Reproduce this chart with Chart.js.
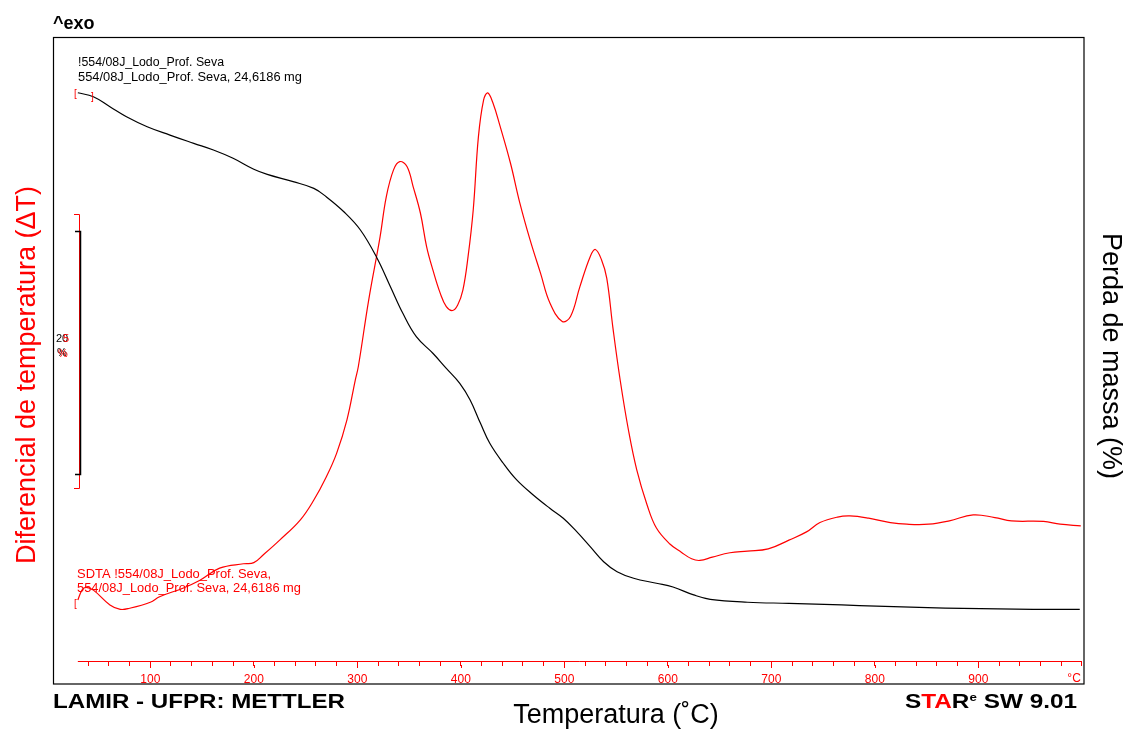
<!DOCTYPE html>
<html>
<head>
<meta charset="utf-8">
<script src="https://cdn.jsdelivr.net/npm/chart.js@4.4.1/dist/chart.umd.min.js"></script>
<style>
  body { margin: 0; background: #fff; }
  #wrap { width: 1126px; height: 731px; }
</style>
</head>
<body>
<div id="wrap"><canvas id="tgaChart" width="1126" height="731"></canvas></div>
<script>
// TGA curve: temperatura (°C) e massa (%)
const tgaTemp = [30, 45, 61, 77, 97, 119, 142, 161, 180, 200, 213, 238, 258, 270, 287, 303, 319, 332, 344, 357,
  373, 386, 399, 409, 419, 428, 441, 454, 470, 486, 499, 512, 525, 538, 551, 567, 589, 605, 625, 641,
  677, 717, 751, 785, 818, 851, 885, 953, 998];
const tgaMass = [100.0, 99.67, 98.85, 98.03, 97.21, 96.52, 95.84, 95.29, 94.61, 93.71, 93.29, 92.69, 92.14, 91.45, 90.22, 88.72, 86.42, 84.06, 81.87, 79.95,
  78.59, 77.35, 76.12, 74.75, 72.83, 71.19, 69.55, 68.18, 66.94, 65.85, 65.03, 63.93, 62.70, 61.46, 60.64, 60.10, 59.69, 59.38, 58.73, 58.37,
  58.13, 58.04, 57.96, 57.85, 57.77, 57.68, 57.63, 57.55, 57.55];

// SDTA curve: temperatura (°C) e diferencial (escala: barra vermelha = 5)
const dtaTemp = [30, 34, 38, 45, 61, 71, 80, 100, 109, 132, 148, 167, 190, 200, 209, 225, 245, 258, 270, 280,
  290, 298, 301, 311, 322, 328, 335, 341, 348, 354, 361, 367, 373, 380, 386, 392, 397, 402, 407, 412,
  417, 422, 426, 431, 438, 448, 457, 467, 477, 486, 498, 506, 515, 525, 530, 536, 541, 547, 554, 562,
  570, 580, 589, 602, 613, 623, 631, 643, 660, 677, 697, 717, 734, 747, 764, 776, 794, 815, 831, 852,
  872, 895, 916, 932, 963, 979, 999];
const dtaDelta = [0, 0.18, 0.23, 0.18, -0.09, -0.17, -0.15, -0.04, 0.06, 0.22, 0.36, 0.58, 0.66, 0.68, 0.82, 1.09, 1.46, 1.82, 2.24, 2.67,
  3.28, 4.00, 4.25, 5.46, 6.61, 7.34, 7.83, 7.98, 7.89, 7.52, 7.04, 6.43, 6.01, 5.59, 5.34, 5.27, 5.37, 5.64, 6.25, 7.10,
  8.43, 9.10, 9.23, 9.05, 8.62, 7.95, 7.23, 6.55, 5.95, 5.41, 5.07, 5.16, 5.70, 6.25, 6.38, 6.19, 5.86, 4.95, 4.00, 3.09,
  2.37, 1.73, 1.31, 1.02, 0.87, 0.75, 0.72, 0.78, 0.86, 0.89, 0.93, 1.09, 1.24, 1.41, 1.51, 1.53, 1.49, 1.41, 1.38, 1.38,
  1.44, 1.55, 1.50, 1.44, 1.43, 1.38, 1.35];

// eixo x
const tickLabels = [100, 200, 300, 400, 500, 600, 700, 800, 900];
const tickStep = 20;
const tempStart = 30;
const tempEnd = 1000;

// barras de escala (20 % e 5)
const tgaBar = [68.66, 88.66];
const dtaBar = [2.03, 7.03];

const FONT = "'Liberation Sans', Arial, sans-serif";
const RED = "#ff0000";

function fitText(ctx, text, x, y, width, font, color) {
  ctx.font = font;
  ctx.fillStyle = color;
  const w = ctx.measureText(text).width;
  ctx.save();
  ctx.translate(x, y);
  ctx.scale(width / w, 1);
  ctx.fillText(text, 0, 0);
  ctx.restore();
}

const decorPlugin = {
  id: "decor",
  afterDraw(chart) {
    const ctx = chart.ctx;
    const xs = chart.scales.x;
    const ys = chart.scales.y;
    const y1s = chart.scales.y1;
    const bottom = chart.chartArea.bottom;
    ctx.save();
    ctx.textAlign = "left";
    ctx.textBaseline = "alphabetic";

    // moldura
    ctx.strokeStyle = "#000";
    ctx.lineWidth = 1.2;
    ctx.strokeRect(53.5, 37.5, 1030.5, 646.5);

    // linha do eixo x
    ctx.strokeStyle = RED;
    ctx.lineWidth = 1;
    ctx.beginPath();
    ctx.moveTo(xs.getPixelForValue(tempStart), bottom + 0.5);
    ctx.lineTo(xs.getPixelForValue(tempEnd), bottom + 0.5);
    // ticks maiores um pouco mais longos
    tickLabels.forEach(function (v) {
      const px = Math.round(xs.getPixelForValue(v)) + 0.5;
      ctx.moveTo(px, bottom + 4);
      ctx.lineTo(px, bottom + 7);
    });
    ctx.stroke();
    ctx.font = "12px " + FONT;
    ctx.fillStyle = RED;
    ctx.textAlign = "right";
    ctx.fillText("°C", xs.getPixelForValue(tempEnd) - 1, bottom + 21);
    ctx.textAlign = "left";

    // barras de escala
    ctx.strokeStyle = RED;
    ctx.lineWidth = 1;
    const r0 = Math.round(y1s.getPixelForValue(dtaBar[1])) + 0.5;
    const r1 = Math.round(y1s.getPixelForValue(dtaBar[0])) + 0.5;
    ctx.beginPath();
    ctx.moveTo(74, r0); ctx.lineTo(79.5, r0); ctx.lineTo(79.5, r1); ctx.lineTo(74, r1);
    ctx.stroke();
    ctx.strokeStyle = "#000";
    ctx.lineWidth = 1.5;
    const b0 = Math.round(ys.getPixelForValue(tgaBar[1])) + 0.5;
    const b1 = Math.round(ys.getPixelForValue(tgaBar[0])) + 0.5;
    ctx.beginPath();
    ctx.moveTo(75, b0); ctx.lineTo(80.5, b0); ctx.lineTo(80.5, b1); ctx.lineTo(75, b1);
    ctx.stroke();
    ctx.font = "11px " + FONT;
    ctx.fillStyle = "#000";
    ctx.fillText("20", 56, 342);
    ctx.fillText("%", 57, 356);
    ctx.fillStyle = RED;
    ctx.fillText("5", 63, 342);
    ctx.fillText("%", 58, 357);

    // marcadores de início
    ctx.font = "10px " + FONT;
    ctx.fillStyle = RED;
    ctx.fillText("[", 74, 97);
    ctx.fillText("]", 91, 100);
    ctx.fillText("[", 74, 607);

    // textos das curvas
    fitText(ctx, "!554/08J_Lodo_Prof. Seva", 78, 66, 146, "12px " + FONT, "#000");
    fitText(ctx, "554/08J_Lodo_Prof. Seva, 24,6186 mg", 78, 81, 224, "12px " + FONT, "#000");
    fitText(ctx, "SDTA !554/08J_Lodo_Prof. Seva,", 77, 578, 194, "12px " + FONT, RED);
    fitText(ctx, "554/08J_Lodo_Prof. Seva, 24,6186 mg", 77, 592, 224, "12px " + FONT, RED);

    // ^exo
    ctx.font = "bold 18px " + FONT;
    ctx.fillStyle = "#000";
    ctx.fillText("^exo", 53, 29);

    // títulos dos eixos
    ctx.font = "27px " + FONT;
    ctx.textAlign = "center";
    ctx.fillStyle = RED;
    ctx.save();
    ctx.translate(35, 375);
    ctx.rotate(-Math.PI / 2);
    ctx.fillText("Diferencial de temperatura (\u0394T)", 0, 0);
    ctx.restore();

    ctx.fillStyle = "#000";
    ctx.save();
    ctx.translate(1103, 356);
    ctx.rotate(Math.PI / 2);
    ctx.fillText("Perda de massa (%)", 0, 0);
    ctx.restore();

    ctx.fillText("Temperatura (\u02DAC)", 616, 723);

    // rodapé
    ctx.textAlign = "left";
    fitText(ctx, "LAMIR - UFPR: METTLER", 53, 708, 292, "bold 21px " + FONT, "#000");

    const parts = [
      ["S", "#000", 20], ["TA", RED, 20], ["R", "#000", 20], ["e", "#000", 11], [" SW 9.01", "#000", 20]
    ];
    let total = 0;
    parts.forEach(function (p) {
      ctx.font = "bold " + p[2] + "px " + FONT;
      total += ctx.measureText(p[0]).width;
    });
    const k = 172 / total;
    let cx = 905;
    parts.forEach(function (p) {
      ctx.font = "bold " + p[2] + "px " + FONT;
      ctx.fillStyle = p[1];
      const w = ctx.measureText(p[0]).width;
      ctx.save();
      ctx.translate(cx, p[2] === 11 ? 701 : 708);
      ctx.scale(k, 1);
      ctx.fillText(p[0], 0, 0);
      ctx.restore();
      cx += w * k;
    });

    ctx.restore();
  }
};

const tickValues = [];
for (let v = 40; v <= tempEnd; v += tickStep) tickValues.push(v);

const ctx = document.getElementById("tgaChart").getContext("2d");
const chart = new Chart(ctx, {
  type: "line",
  data: {
    datasets: [
      {
        label: "TGA",
        data: tgaTemp.map((t, i) => ({ x: t, y: tgaMass[i] })),
        borderColor: "#000",
        borderWidth: 1.2,
        pointRadius: 0,
        tension: 0.4,
        yAxisID: "y",
      },
      {
        label: "SDTA",
        data: dtaTemp.map((t, i) => ({ x: t, y: dtaDelta[i] })),
        borderColor: RED,
        borderWidth: 1.2,
        pointRadius: 0,
        tension: 0.4,
        yAxisID: "y1",
      },
    ],
  },
  options: {
    responsive: false,
    animation: false,
    layout: { padding: { left: 53, right: 42, top: 37, bottom: 47 } },
    plugins: { legend: { display: false }, tooltip: { enabled: false } },
    scales: {
      x: {
        type: "linear",
        min: 6.0,
        max: 1002.1,
        afterBuildTicks: function (axis) {
          axis.ticks = tickValues.map((v) => ({ value: v }));
        },
        afterFit: function (axis) {
          axis.height = 23;
        },
        grid: { drawOnChartArea: false, drawTicks: true, tickLength: 5, color: RED, lineWidth: 1 },
        border: { display: false },
        ticks: {
          autoSkip: false,
          maxRotation: 0,
          padding: 6,
          color: RED,
          font: { family: FONT, size: 12 },
          callback: function (v) {
            return tickLabels.includes(v) ? String(v) : "";
          },
        },
      },
      y: { display: false, min: 53.30, max: 104.58 },
      y1: { display: false, min: -1.110, max: 10.248 },
    },
  },
  plugins: [decorPlugin],
});
</script>
</body>
</html>
